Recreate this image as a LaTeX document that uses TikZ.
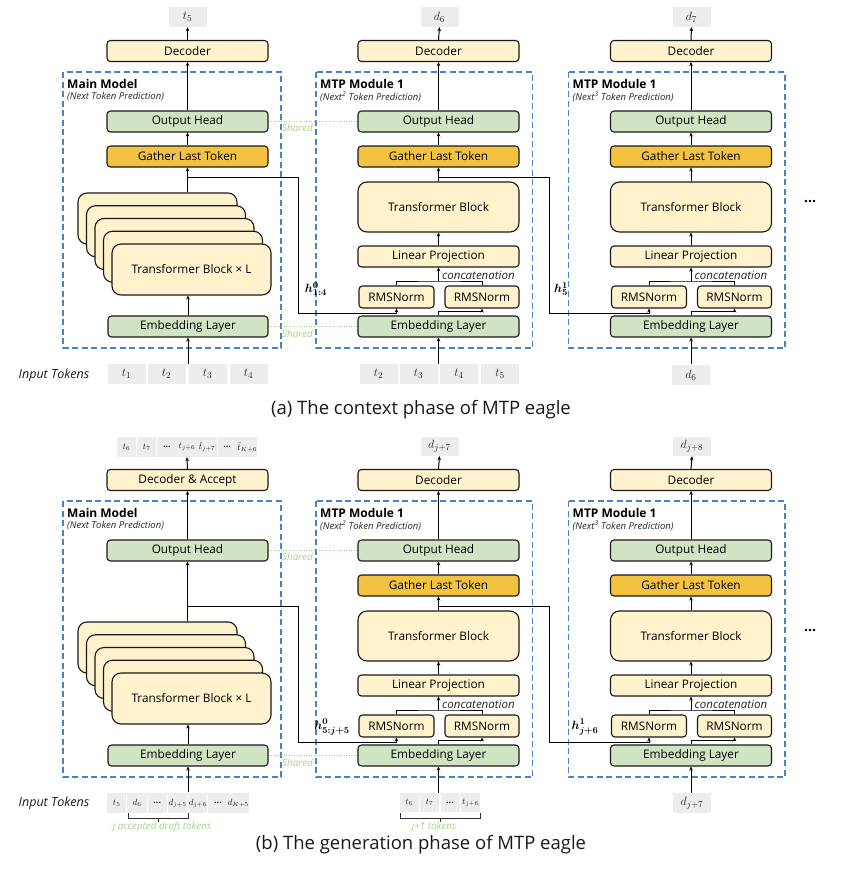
\documentclass[tikz,border=0pt]{standalone}
\usepackage{fontspec}
\setmainfont{Open Sans}
\usepackage{amsmath,bm}
\usetikzlibrary{arrows.meta}
\definecolor{creamC}{HTML}{FFF2CC}
\definecolor{greenC}{HTML}{D0E4C3}
\definecolor{goldC}{HTML}{F2C240}
\definecolor{frameC}{HTML}{4A82C8}
\definecolor{sharedC}{HTML}{A6D08A}
\definecolor{tokC}{HTML}{EDEDED}
\tikzset{
 bx/.style={draw=black!90, line width=1.1pt, rounded corners=3.5pt, inner sep=0pt, minimum width=161pt, minimum height=21pt, font=\fontsize{11.8}{13}\selectfont, text=black},
 creambox/.style={bx, fill=creamC},
 greenbox/.style={bx, fill=greenC},
 goldbox/.style={bx, fill=goldC},
 tbbox/.style={creambox, minimum width=159pt, minimum height=51pt, rounded corners=9pt},
 rmsbox/.style={creambox, minimum width=75pt, minimum height=22pt},
 tok/.style={fill=tokC, inner sep=0pt, minimum width=38pt, minimum height=20pt, font=\fontsize{13}{14}\selectfont, text=black!85},
 stok/.style={fill=tokC, inner sep=0pt, minimum width=19.3pt, minimum height=20pt, font=\fontsize{9}{10}\selectfont, text=black!85},
 arr/.style={draw=black, line width=1pt, -{Stealth[length=4pt,width=3.6pt]}},
 ln/.style={draw=black, line width=1pt},
 mframe/.style={draw=frameC, line width=1.3pt, dash pattern=on 6pt off 3.5pt},
 sharedln/.style={draw=sharedC, line width=1pt, dash pattern=on 1pt off 1.5pt},
 sharedf/.style={text=sharedC, font=\fontsize{9.8}{10}\selectfont\itshape, inner sep=0pt},
 titlef/.style={font=\fontsize{12}{13}\selectfont\bfseries, inner sep=0pt, text=black},
 subf/.style={font=\fontsize{9.5}{10}\selectfont\itshape, inner sep=0pt, text=black!85},
 catf/.style={font=\fontsize{11.5}{12}\selectfont\itshape, inner sep=0pt, text=black!85},
 hf/.style={font=\fontsize{13}{14}\selectfont, inner sep=0pt},
 inf/.style={font=\fontsize{12.5}{13}\selectfont\itshape, inner sep=0pt, text=black!90},
 capf/.style={font=\fontsize{18.5}{20}\selectfont, inner sep=0pt, text=black!90},
 brc/.style={draw=black!80, line width=0.9pt},
 dotf/.style={font=\fontsize{14}{14}\selectfont\bfseries, inner sep=0pt},
 gnote/.style={text=sharedC, font=\fontsize{9.8}{10}\selectfont\itshape, inner sep=0pt},
}
% MTP column: #1 prefix, #2 centre x, #3 vertical offset, #4 superscript
\newcommand\mtpcol[4]{%
  \node[creambox] (#1Dec) at (#2,51+#3) {Decoder};
  \draw[mframe] (#2-122.5,72+#3) rectangle (#2+94,348+#3);
  \node[titlef, anchor=west] (#1Ttl) at (#2-118.5,84+#3) {MTP Module 1};
  \node[subf, anchor=west] (#1Sub) at (#2-118.5,97+#3) {(Next\textsuperscript{#4} Token Prediction)};
  \node[greenbox] (#1Out) at (#2,121.5+#3) {Output Head};
  \node[goldbox] (#1Gat) at (#2,156.5+#3) {Gather Last Token};
  \node[creambox, minimum height=50pt, rounded corners=9pt] (#1TB) at (#2,207+#3) {Transformer Block};
  \node[creambox] (#1Lin) at (#2,256.5+#3) {Linear Projection};
  \node[rmsbox] (#1RmsL) at (#2-42,297+#3) {RMSNorm};
  \node[rmsbox, minimum width=74pt] (#1RmsR) at (#2+43.5,297+#3) {RMSNorm};
  \node[greenbox] (#1Emb) at (#2,326.5+#3) {Embedding Layer};
  \coordinate (#1Cat) at (#2,281+#3);
  \coordinate (#1J) at (#2,177+#3);
  \coordinate (#1In) at (#2,364+#3);
  \node[catf, anchor=west] (#1CatL) at (#2+3.5,275.5+#3) {concatenation};
  \draw[arr] (#1Out.north) -- (#1Dec.south);
  \draw[arr] (#1Gat.north) -- (#1Out.south);
  \draw[arr] (#1TB.north) -- (#1Gat.south);
  \draw[arr] (#1Lin.north) -- (#1TB.south);
  \draw[ln] (#1RmsL.north) |- (#1Cat) -| (#1RmsR.north);
  \draw[arr] (#1Cat) -- (#1Lin.south);
  \draw[arr] (#1Emb.north) -- ++(0,-3.5) -| (#1RmsR.south);
  \draw[arr] (#1In) -- (#1Emb.south);
}
\begin{document}
\begin{tikzpicture}[x=1pt,y=-1pt]
\fill[white] (0,0) rectangle (842,870);
\useasboundingbox (0,0) rectangle (842,870);

%================ (a) context phase =================
% main model
\node[tok] (aT5) at (187.5,17) {$t_5$};
\node[creambox] (aDecA) at (187.5,51) {Decoder};
\draw[mframe] (63,72) rectangle (281,348);
\node[titlef, anchor=west] (aTtlA) at (67,84) {Main Model};
\node[subf, anchor=west] (aSubA) at (67,97) {(Next Token Prediction)};
\node[greenbox] (aOutA) at (187.5,121.5) {Output Head};
\node[goldbox] (aGatA) at (187.5,156.5) {Gather Last Token};
\foreach \i in {0,...,3} {\node[tbbox] (aTB\i) at ({157.5+8.5*\i},{218.5+12.75*\i}) {};}
\node[tbbox] (aTB4) at (191.5,269.5) {Transformer Block × L};
\node[greenbox, minimum width=160pt] (aEmbA) at (188,326.5) {Embedding Layer};
\coordinate (aInA) at (188,364);
\coordinate (aJA) at (187.5,177);
\draw[arr] (aDecA.north) -- (aT5.south);
\draw[arr] (aOutA.north) -- (aDecA.south);
\draw[arr] (aGatA.north) -- (aOutA.south);
\draw[arr] (aGatA.south |- aTB0.north) -- (aGatA.south);
\draw[arr] (aEmbA.north) -- (aEmbA.north |- aTB4.south);
\draw[arr] (aInA) -- (aEmbA.south);
\node[inf] (aInLbl) at (54,375) {Input Tokens};
\foreach \i/\t in {1/126.5,2/166.5,3/207.5,4/248.5} {\node[tok] (aInTok\i) at (\t,374) {$t_{\i}$};}

% MTP module columns
\node[tok] (aD6) at (439.5,17) {$d_6$};
\mtpcol{aB}{438.5}{0}{2}
\draw[arr] (aBDec.north) -- (aD6.south);
\foreach \i/\t in {2/378.5,3/418.5,4/459,5/500} {\node[tok] (aBInTok\i) at (\t,374) {$t_{\i}$};}

\node[tok] (aD7) at (691.5,17) {$d_7$};
\mtpcol{aC}{691}{0}{3}
\draw[arr] (aCDec.north) -- (aD7.south);
\node[tok] (aCIn6) at (691,375) {$d_6$};
\node[dotf] (aDots) at (810,202) {...};

% hidden-state links
\coordinate (aKA) at (298,313);
\coordinate (aKB) at (549,313);
\draw[arr] (aJA) -| (aKA) -| (aBRmsL.south);
\draw[arr] (aBJ) -| (aKB) -| (aCRmsL.south);
\node[hf] (aH0) at (316,289) {$\bm{h}^{\bm{0}}_{\bm{1:4}}$};
\node[hf] (aH1) at (561,289) {$\bm{h}^{\bm{1}}_{\bm{5}}$};

% shared
\draw[sharedln] (aOutA.east) -- (aBOut.west);
\node[sharedf] (aSh1) at (297.5,128) {Shared};
\draw[sharedln] (aEmbA.east) -- (aBEmb.west);
\node[sharedf] (aSh2) at (297.5,334) {Shared};

\node[capf] (capA) at (421,410) {(a) The context phase of MTP eagle};

%================ (b) generation phase =================
\foreach \i/\t in {0/{$t_6$},1/{$t_7$},2/{\textbf{...}},3/{$t_{j+6}$},4/{$\hat{t}_{j+7}$},5/{\textbf{...}},6/{$\hat{t}_{K+6}$}} {\node[stok] (bOutTok\i) at ({126.65+20.1*\i},447) {\t};}
\node[creambox] (bDecA) at (187.5,480) {Decoder \& Accept};
\draw[mframe] (63,501) rectangle (281,777);
\node[titlef, anchor=west] (bTtlA) at (67,513) {Main Model};
\node[subf, anchor=west] (bSubA) at (67,526) {(Next Token Prediction)};
\node[greenbox] (bOutA) at (187.5,550.5) {Output Head};
\foreach \i in {0,...,3} {\node[tbbox] (bTB\i) at ({157.5+8.5*\i},{647.5+12.75*\i}) {};}
\node[tbbox] (bTB4) at (191.5,698.5) {Transformer Block × L};
\node[greenbox, minimum width=160pt] (bEmbA) at (188,755.5) {Embedding Layer};
\coordinate (bInA) at (188,792);
\coordinate (bJA) at (187.5,606);
\draw[arr] (bDecA.north) -- (bOutTok3.south);
\draw[arr] (bOutA.north) -- (bDecA.south);
\draw[arr] (bOutA.south |- bTB0.north) -- (bOutA.south);
\draw[arr] (bEmbA.north) -- (bEmbA.north |- bTB4.south);
\draw[arr] (bInA) -- (bEmbA.south);
\node[inf] (bInLbl) at (54,803) {Input Tokens};
\foreach \i/\t in {0/{$t_5$},1/{$d_6$},2/{\textbf{...}},3/{$d_{j+5}$},4/{$d_{j+6}$},5/{\textbf{...}},6/{$d_{K+5}$}} {\node[stok] (bInTok\i) at ({116.75+20.25*\i},803) {\t};}
\coordinate (bBrA) at (128,813);
\coordinate (bBrAc) at (158,818);
\draw[brc] (bBrA) -- ++(0,5) -- ++(60,0) -- ++(0,-5);
\draw[brc] (bBrAc) -- ++(0,3.5);
\node[gnote] (bNoteA) at (162,827) {j accepted draft tokens};

\node[tok, minimum height=19pt] (bDj7) at (439.5,446.5) {$d_{j+7}$};
\mtpcol{bB}{438.5}{429}{2}
\draw[arr] (bBDec.north) -- (bDj7.south);
\foreach \i/\t in {0/{$t_6$},1/{$t_7$},2/{\textbf{...}},3/{$t_{j+6}$}} {\node[stok, minimum width=19pt, minimum height=19pt] (bBInTok\i) at ({409+20.5*\i},802.5) {\t};}
\coordinate (bBrB) at (400,813);
\coordinate (bBrBc) at (440,818);
\draw[brc] (bBrB) -- ++(0,5) -- ++(80,0) -- ++(0,-5);
\draw[brc] (bBrBc) -- ++(0,3.5);
\node[gnote] (bNoteB) at (434,827) {j+1 tokens};

\node[tok, minimum height=19pt] (bDj8) at (692,446.5) {$d_{j+8}$};
\mtpcol{bC}{691}{429}{3}
\draw[arr] (bCDec.north) -- (bDj8.south);
\node[tok] (bCIn) at (692,803) {$d_{j+7}$};
\node[dotf] (bDots) at (810,631) {...};

\coordinate (bKA) at (298,742);
\coordinate (bKB) at (549,742);
\draw[arr] (bJA) -| (bKA) -| (bBRmsL.south);
\draw[arr] (bBJ) -| (bKB) -| (bCRmsL.south);
\node[hf] (bH0) at (332,727) {$\bm{h}^{\bm{0}}_{\bm{5:j+5}}$};
\node[hf] (bH1) at (585,727) {$\bm{h}^{\bm{1}}_{\bm{j+6}}$};

\draw[sharedln] (bOutA.east) -- (bBOut.west);
\node[sharedf] (bSh1) at (297.5,557) {Shared};
\draw[sharedln] (bEmbA.east) -- (bBEmb.west);
\node[sharedf] (bSh2) at (297.5,763) {Shared};

\node[capf] (capB) at (421,845) {(b) The generation phase of MTP eagle};
\end{tikzpicture}
\end{document}
